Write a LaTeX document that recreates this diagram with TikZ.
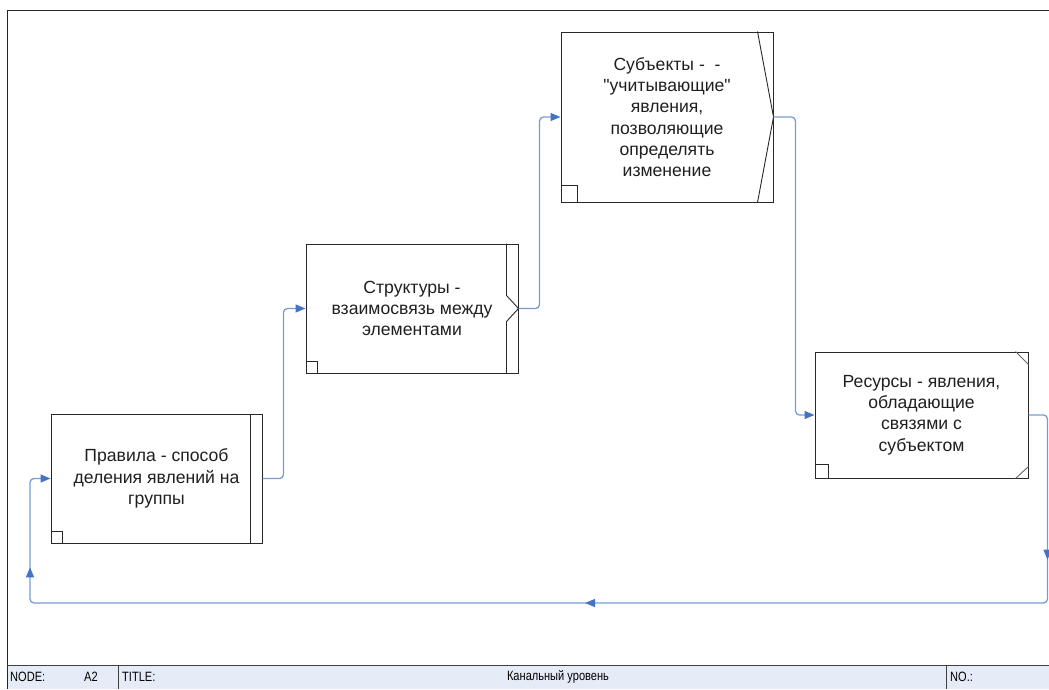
\documentclass[tikz,border=0pt]{standalone}
\usepackage{fontspec}
\setmainfont{Liberation Sans}
\newfontfamily\narrowfont[FakeStretch=0.82]{Liberation Sans}
\usetikzlibrary{arrows.meta,decorations.markings}
\definecolor{boxline}{RGB}{40,40,40}
\definecolor{conn}{RGB}{120,155,215}
\definecolor{tipblue}{RGB}{68,114,196}
\definecolor{footerblue}{RGB}{230,236,247}
\tikzset{
  actbox/.style={draw=boxline,line width=1pt,rectangle,inner sep=0pt,align=center,
    font=\fontsize{17.6}{21.3}\selectfont,text=black!88},
  deco/.style={draw=boxline,line width=0.9pt},
  conline/.style={draw=conn,line width=1.3pt,rounded corners=4pt},
  tip/.style={-{Triangle[length=10pt,width=8pt,fill=tipblue,color=tipblue]}},
  foot/.style={font=\narrowfont\fontsize{13.5}{15}\selectfont,inner sep=0pt,text=black}
}
\begin{document}
\begin{tikzpicture}[x=1pt,y=-1pt]
\useasboundingbox (0,0) rectangle (1049,689);
% frame and footer
\fill[footerblue] (7,665) rectangle (1049,689);
\draw[black!85,line width=1pt] (7,689) -- (7,10) -- (1049,10);
\draw[black!75,line width=1pt] (7,665) -- (1049,665);
\draw[black!75,line width=0.9pt] (118,665) -- (118,689) (946,665) -- (946,689);
\node[foot,anchor=west] (fnode) at (10,677) {NODE:};
\node[foot,anchor=west] (fa2) at (84,677) {A2};
\node[foot,anchor=west] (ftitle) at (122,677) {TITLE:};
\node[foot] (fname) at (558,677) {Канальный уровень};
\node[foot,anchor=west] (fno) at (950,677) {NO.:};

% boxes
\node[actbox,minimum width=211pt,minimum height=129pt] (A) at (156.5,478.5)
  {Правила - способ\\деления явлений на\\группы};
\node[actbox,minimum width=212pt,minimum height=129pt] (B) at (412,308.5)
  {Структуры -\\взаимосвязь между\\элементами};
\node[actbox,minimum width=212pt,minimum height=170pt] (C) at (667,117)
  {Субъекты - ~-\\\textquotedbl учитывающие\textquotedbl\\явления,\\позволяющие\\определять\\изменение};
\node[actbox,minimum width=213pt,minimum height=126pt] (D) at (921.5,415)
  {Ресурсы - явления,\\обладающие\\связями с\\субъектом};

% box decorations
\draw[deco] ([xshift=-12pt]A.north east) -- ([xshift=-12pt]A.south east);
\draw[deco] (A.south west) ++(0,-12) -- ++(12,0) -- ++(0,12);
\draw[deco] ([xshift=-12pt]B.north east) -- ([xshift=-12pt,yshift=13pt]B.east)
  -- (B.east) -- ([xshift=-12pt,yshift=-13pt]B.east) -- ([xshift=-12pt]B.south east);
\draw[deco] (B.south west) ++(0,-12) -- ++(12,0) -- ++(0,12);
\draw[deco] ([xshift=-16pt]C.north east) -- (C.east) -- ([xshift=-16pt]C.south east);
\draw[deco] (C.south west) ++(0,-17) -- ++(17,0) -- ++(0,17);
\draw[deco,draw=black!60] ([xshift=-13pt]D.north east) -- ([yshift=-13pt]D.north east);
\draw[deco,draw=black!60] ([xshift=-13pt]D.south east) -- ([yshift=12pt]D.south east);
\draw[deco] (D.south west) ++(0,-14) -- ++(14,0) -- ++(0,14);

% connectors
\draw[conline,tip] (A.east) -- ++(21,0) |- (B.west);
\draw[conline,tip] (B.east) -- ++(21,0) |- (C.west);
\draw[conline,tip] (C.east) -- ++(22,0) |- (D.west);
\coordinate (fbR) at (1047.5,603);
\coordinate (fbL) at (30,603);
\draw[conline,tip,
  postaction={decorate,decoration={markings,
    mark=at position 162pt with {\arrow{Triangle[length=10pt,width=8pt,fill=tipblue,color=tipblue]}},
    mark=at position 666pt with {\arrow{Triangle[length=10pt,width=8pt,fill=tipblue,color=tipblue]}},
    mark=at position 1255pt with {\arrow{Triangle[length=10pt,width=8pt,fill=tipblue,color=tipblue]}}}}]
  (D.east) -- (fbR |- D.east) -- (fbR) -- (fbL) -- (fbL |- A.west) -- (A.west);
\end{tikzpicture}
\end{document}
